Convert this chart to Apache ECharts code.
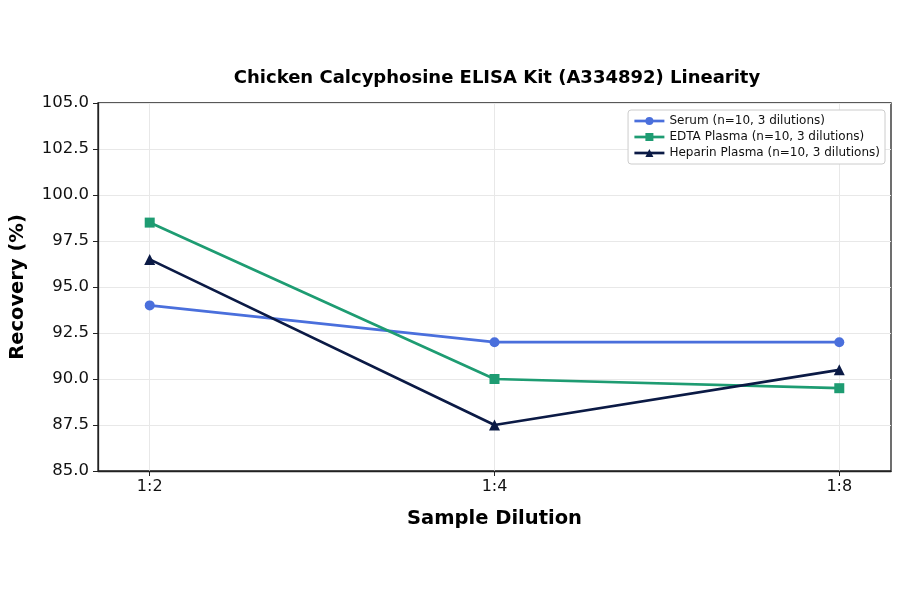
<!DOCTYPE html>
<html>
<head>
    <meta charset="utf-8">
    <title>Linearity</title>
    <script src="https://cdn.jsdelivr.net/npm/echarts@6/dist/echarts.min.js"></script>
    <style>
        body { margin: 0; background: #fff; }
        #chart { width: 900px; height: 594px; }
    </style>
</head>
<body>
<div id="chart"></div>
<script>
// dilutions on the x axis
const dilutions = ['1:2', '1:4', '1:8'];

// recovery (%) per sample type
const serum = [94.0, 92.0, 92.0];
const edta = [98.5, 90.0, 89.5];
const heparin = [96.5, 87.5, 90.5];

const names = [
    'Serum (n=10, 3 dilutions)',
    'EDTA Plasma (n=10, 3 dilutions)',
    'Heparin Plasma (n=10, 3 dilutions)'
];
const colors = ['#4a6fdc', '#1e9c72', '#0b1a45'];

const toPts = arr => arr.map((v, i) => [i, v]);
const font = 'DejaVu Sans';

let chart = echarts.init(document.getElementById('chart'));

let option = {
    animation: false,
    textStyle: { fontFamily: font },
    title: {
        text: 'Chicken Calcyphosine ELISA Kit (A334892) Linearity',
        left: 492,
        textAlign: 'center',
        top: 64,
        textStyle: { fontSize: 18, fontWeight: 'bold', color: '#000', fontFamily: font }
    },
    grid: {
        left: 97, right: 9, top: 103, bottom: 123,
        show: true,
        borderColor: '#222',
        borderWidth: 1.3
    },
    legend: {
        orient: 'vertical',
        right: 15,
        top: 110,
        itemWidth: 30,
        itemHeight: 10,
        itemGap: 4,
        padding: [5, 5, 5, 5],
        borderColor: '#ccc',
        borderWidth: 1,
        borderRadius: 3,
        backgroundColor: '#fff',
        lineStyle: { width: 2.7 },
        textStyle: { fontSize: 12, color: '#111', fontFamily: font },
        data: names
    },
    xAxis: {
        type: 'value',
        position: 'bottom',
        min: -0.15,
        max: 2.15,
        name: 'Sample Dilution',
        nameLocation: 'middle',
        nameGap: 38,
        nameTextStyle: { fontSize: 19.5, fontWeight: 'bold', color: '#000' },
        axisLine: { onZero: false, lineStyle: { color: '#222', width: 1.3 } },
        axisTick: { customValues: [0, 1, 2], length: 5, lineStyle: { color: '#222' } },
        axisLabel: {
            customValues: [0, 1, 2],
            formatter: v => dilutions[Math.round(v)],
            fontSize: 16, color: '#111', margin: 8
        },
        splitLine: { show: true, lineStyle: { color: '#e8e8e8', width: 1 } }
    },
    yAxis: {
        type: 'value',
        position: 'left',
        min: 85,
        max: 105,
        interval: 2.5,
        name: 'Recovery (%)',
        nameLocation: 'middle',
        nameGap: 70,
        nameTextStyle: { fontSize: 19.5, fontWeight: 'bold', color: '#000' },
        axisLine: { show: true, onZero: false, lineStyle: { color: '#222', width: 1.3 } },
        axisTick: { show: true, length: 5, lineStyle: { color: '#222' } },
        axisLabel: { formatter: v => v.toFixed(1), fontSize: 16.5, color: '#111', margin: 9 },
        splitLine: { show: true, lineStyle: { color: '#e8e8e8', width: 1 } }
    },
    series: [
        { name: names[0], data: toPts(serum), symbol: 'circle', symbolSize: 10 },
        { name: names[1], data: toPts(edta), symbol: 'rect', symbolSize: 10 },
        { name: names[2], data: toPts(heparin), symbol: 'triangle', symbolSize: 11 }
    ].map((s, i) => ({
        ...s,
        type: 'line',
        color: colors[i],
        lineStyle: { width: 2.7, color: colors[i] },
        itemStyle: { color: colors[i] }
    }))
};

chart.setOption(option);
</script>
</body>
</html>
